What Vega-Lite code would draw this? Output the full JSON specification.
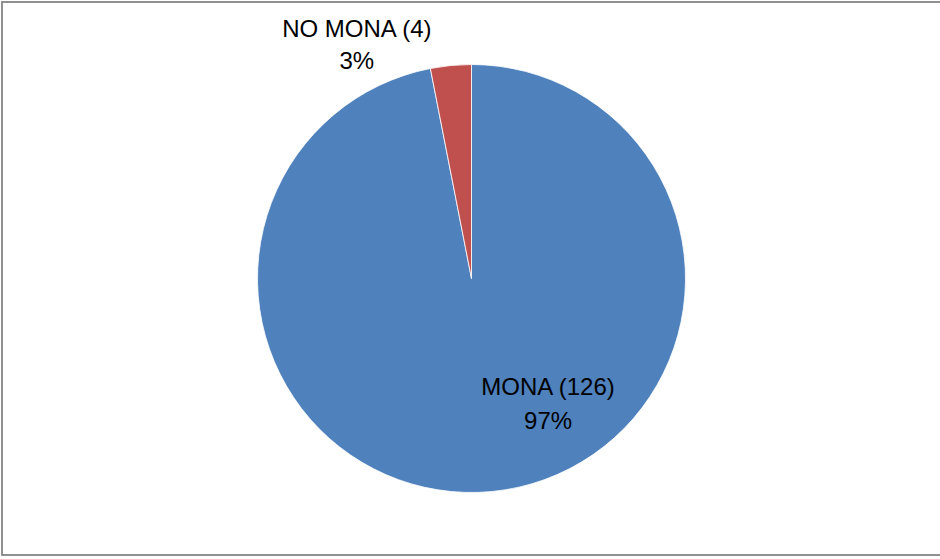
{
  "$schema": "https://vega.github.io/schema/vega-lite/v6.json",
  "width": 940,
  "height": 559,
  "autosize": {"type": "fit", "contains": "padding"},
  "padding": {"left": 1, "top": 1, "right": -2, "bottom": 3},
  "background": "white",
  "config": {
    "view": {"stroke": null},
    "text": {"font": "Liberation Sans"}
  },
  "data": {
    "values": [
      {"category": "MONA", "count": 126, "label": ["MONA (126)", "97%"]},
      {"category": "NO MONA", "count": 4, "label": ["NO MONA (4)", "3%"]}
    ]
  },
  "layer": [
    {
      "mark": {"type": "rect", "fill": null, "stroke": "#898989", "strokeWidth": 1.5},
      "encoding": {}
    },
    {
      "mark": {"type": "arc", "outerRadius": 214, "stroke": "white", "strokeWidth": 0.8},
      "encoding": {
        "theta": {"field": "count", "type": "quantitative", "stack": true},
        "order": {"field": "category", "type": "nominal"},
        "color": {
          "field": "category",
          "type": "nominal",
          "scale": {"domain": ["MONA", "NO MONA"], "range": ["#4F81BD", "#C0504D"]},
          "legend": null
        }
      }
    },
    {
      "mark": {"type": "text", "radius": 130, "dx": 64, "dy": -20, "fontSize": 24, "lineHeight": 34, "align": "center", "baseline": "middle", "color": "black"},
      "encoding": {
        "theta": {"field": "count", "type": "quantitative", "stack": true},
        "order": {"field": "category", "type": "nominal"},
        "text": {"field": "label"},
        "opacity": {"condition": {"test": "datum.category === 'MONA'", "value": 1}, "value": 0}
      }
    },
    {
      "mark": {"type": "text", "radius": 235, "dx": -92, "dy": -15, "fontSize": 24, "lineHeight": 32, "align": "center", "baseline": "middle", "color": "black"},
      "encoding": {
        "theta": {"field": "count", "type": "quantitative", "stack": true},
        "order": {"field": "category", "type": "nominal"},
        "text": {"field": "label"},
        "opacity": {"condition": {"test": "datum.category === 'NO MONA'", "value": 1}, "value": 0}
      }
    }
  ]
}
